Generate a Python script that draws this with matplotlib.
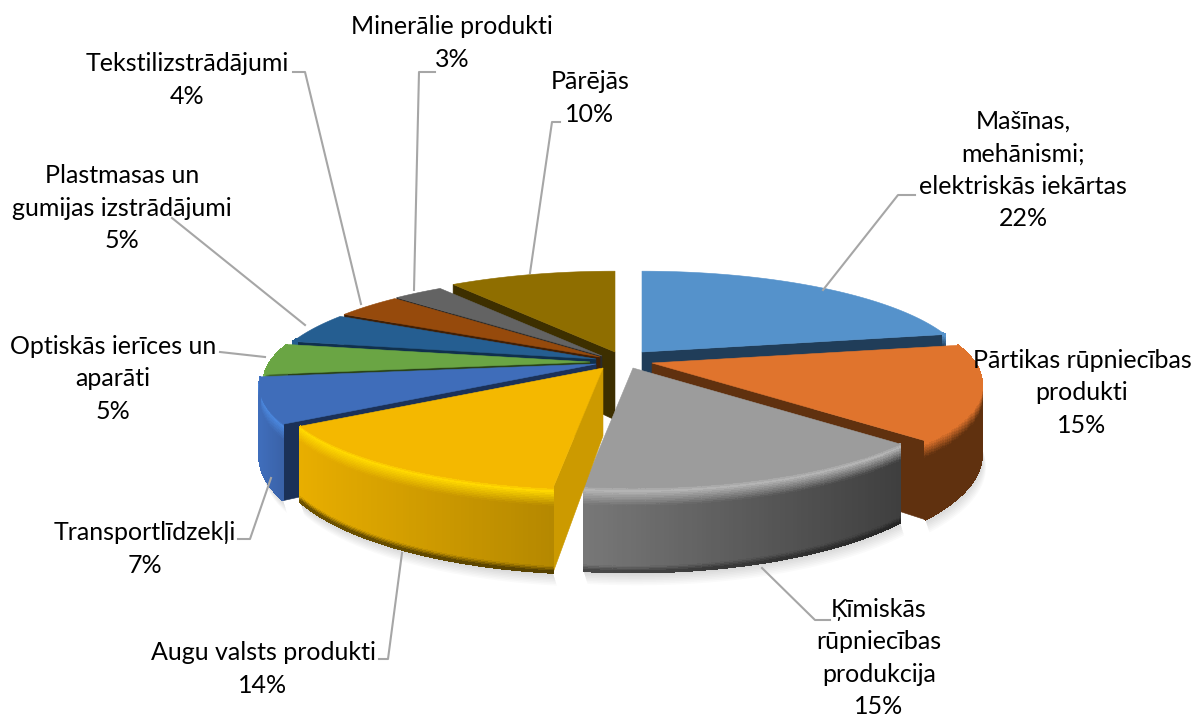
import numpy as np
import matplotlib
matplotlib.use('Agg')
import matplotlib.pyplot as plt
from matplotlib.collections import PolyCollection
from matplotlib.colors import to_rgb

plt.rcParams['font.family'] = ['Lato', 'DejaVu Sans']

# Dati
nosaukumi = ['Mašīnas,\nmehānismi;\nelektriskās iekārtas',
             'Pārtikas rūpniecības\nprodukti',
             'Ķīmiskās\nrūpniecības\nprodukcija',
             'Augu valsts produkti',
             'Transportlīdzekļi',
             'Optiskās ierīces un\naparāti',
             'Plastmasas un\ngumijas izstrādājumi',
             'Tekstilizstrādājumi',
             'Minerālie produkti',
             'Pārējās']
vertibas = [22, 15, 15, 14, 7, 5, 5, 4, 3, 10]

# Krāsas: virsma, griezums, mala, sāns pa kreisi, sāns pa labi
c_top = ['#5592CB', '#E0742D', '#9C9C9C', '#F4B800', '#3F6DBA',
         '#6AA544', '#255E91', '#964A0C', '#636363', '#8F6E00']
c_cut = ['#203D59', '#60310F', '#5C5C5C', '#CC9A00', '#1B3158',
         '#2A4218', '#10304D', '#401F05', '#2A2A2A', '#3D2F00']
c_rim = ['#5592CB', '#E0742D', '#B4B4B4', '#FFD800', '#4A86DC',
         '#7BC04F', '#255E91', '#964A0C', '#636363', '#8F6E00']
c_left = ['#203D59', '#60310F', '#787878', '#E8AE00', '#3F6DBA',
          '#3C6128', '#255E91', '#964A0C', '#636363', '#8F6E00']
c_right = ['#203D59', '#60310F', '#3F3F3F', '#B58800', '#3A62A8',
           '#3C6128', '#255E91', '#964A0C', '#636363', '#8F6E00']
bottom_dark = [0, 0, 0.45, 0.6, 0, 0, 0, 0, 0, 0]

# Izkārtojums pikseļos
apex_x = [642, 652, 633, 603, 596, 590, 596, 600, 602, 615]
apex_y = [352, 363, 368, 368, 364, 362, 359, 357, 356, 352]
radius = [1, 1.01, 0.99, 1, 1.03, 1, 1, 1, 1, 1]
S = 320
SK = 97
P = 0.2
H = 68
draw_order = [9, 8, 7, 6, 5, 0, 4, 1, 2, 3]

label_x = [1023, 1082, 879, 263, 145, 113, 122, 187, 452, 590]
label_y = [170, 393, 658, 669, 549, 379, 208, 80, 43, 98]
leaders = [[(823, 290), (898, 195), (915, 195)],
           None,
           [(762, 568), (815, 620), (830, 620)],
           [(402, 553), (388, 659), (379, 659)],
           [(271, 478), (250, 539), (238, 539)],
           [(265, 357), (220, 352)],
           [(305, 325), (172, 218)],
           [(361, 304), (305, 72), (293, 72)],
           [(414, 290), (419, 72), (435, 72)],
           [(530, 273), (552, 122), (560, 122)]]


def proj(i, theta, r=1.0, z=0.0):
    X = radius[i] * r * np.sin(theta)
    Y = radius[i] * r * np.cos(theta)
    w = 1 + P * Y
    return apex_x[i] + S * X / w, apex_y[i] - SK * Y / w + z * H / w


def mix(c1, c2, t):
    a, b = np.array(to_rgb(c1)), np.array(to_rgb(c2))
    return tuple(np.clip(a + (b - a) * t, 0, 1))


def area(pts):
    p = np.array(pts)
    return 0.5 * np.sum(p[:, 0] * np.roll(p[:, 1], -1) - np.roll(p[:, 0], -1) * p[:, 1])


def wall_colour(i, base, z):
    if z < 0.05:
        return mix(c_top[i], c_rim[i], z / 0.05)
    if z < 0.22:
        return mix(c_rim[i], base, (z - 0.05) / 0.17)
    if z > 0.93:
        return mix(base, '#000000', (z - 0.93) / 0.07 * bottom_dark[i])
    return base


fig = plt.figure(figsize=(11.94, 7.18), dpi=100)
ax = fig.add_axes([0, 0, 1, 1])
ax.set_xlim(0, 1194)
ax.set_ylim(718, 0)
ax.axis('off')

dalas = np.array(vertibas) / np.sum(vertibas) * 2 * np.pi
beigas = np.cumsum(dalas)
sakums = beigas - dalas

zgrid = np.concatenate([np.linspace(0, 0.22, 12), np.linspace(0.3, 0.9, 3), np.linspace(0.93, 1, 5)])
zo = 2.0

for i in draw_order:
    t = np.linspace(sakums[i], beigas[i], 80)
    t_front = t[np.cos(t) < 0.22]

    # ēna
    if len(t_front) > 1 and i < 5:
        for k in range(1, 9):
            pts = [proj(i, a, 1.0, 1.0) for a in t_front]
            low = [(x + k * 0.5, y + k * 1.6) for x, y in pts]
            ax.fill(*zip(*(pts + low[::-1])), color='k', alpha=0.018, lw=0, zorder=1)

    # griezumi
    for a, sign in ((sakums[i], 1), (beigas[i], -1)):
        poly = [proj(i, a, 0, 0), proj(i, a, 1, 0), proj(i, a, 1, 1), proj(i, a, 0, 1)]
        if sign * area(poly) < 0:
            ax.fill(*zip(*poly), color=c_cut[i], lw=0.4, ec=c_cut[i], zorder=zo)
            zo += 0.01

    # ārējais sāns ar gradientu
    if len(t_front) > 1:
        outline = [proj(i, a, 1, 0) for a in t_front] + [proj(i, a, 1, 1) for a in t_front[::-1]]
        bottom_col = mix(c_right[i], '#000000', bottom_dark[i])
        ax.fill(*zip(*outline), color=bottom_col, lw=0.5, ec=bottom_col, zorder=zo)
        zo += 0.01
        quads, cols = [], []
        x0, x1 = proj(i, t_front[0])[0], proj(i, t_front[-1])[0]
        xlo, xhi = min(x0, x1), max(x0, x1)
        for j in range(len(t_front) - 1):
            xm = proj(i, t_front[j])[0]
            f = (xm - xlo) / max(xhi - xlo, 1)
            base = mix(c_left[i], c_right[i], f)
            for n in range(len(zgrid) - 1):
                a0, a1 = t_front[j], t_front[j + 1]
                z0, z1 = zgrid[n], zgrid[n + 1]
                quads.append([proj(i, a0, 1, z0), proj(i, a1, 1, z0),
                              proj(i, a1, 1, z1), proj(i, a0, 1, z1)])
                cols.append(wall_colour(i, base, 0.5 * (z0 + z1)))
        ax.add_collection(PolyCollection(quads, facecolors=cols, edgecolors=cols,
                                         linewidths=0.6, antialiased=False, zorder=zo))
        zo += 0.01

    # augšējā virsma
    top = [(apex_x[i], apex_y[i])] + [proj(i, a) for a in t]
    ax.fill(*zip(*top), color=c_top[i], lw=0.4, ec=c_top[i], zorder=zo)
    zo += 0.01

for lin in leaders:
    if lin is not None:
        ax.plot(*zip(*lin), color='#A6A6A6', lw=1.5, zorder=5)

for i in range(len(vertibas)):
    ax.text(label_x[i], label_y[i], '%s\n%d%%' % (nosaukumi[i], vertibas[i]),
            ha='center', va='center', fontsize=18, color='#000000',
            linespacing=1.5, zorder=6)

fig.savefig('out.png', dpi=100)
